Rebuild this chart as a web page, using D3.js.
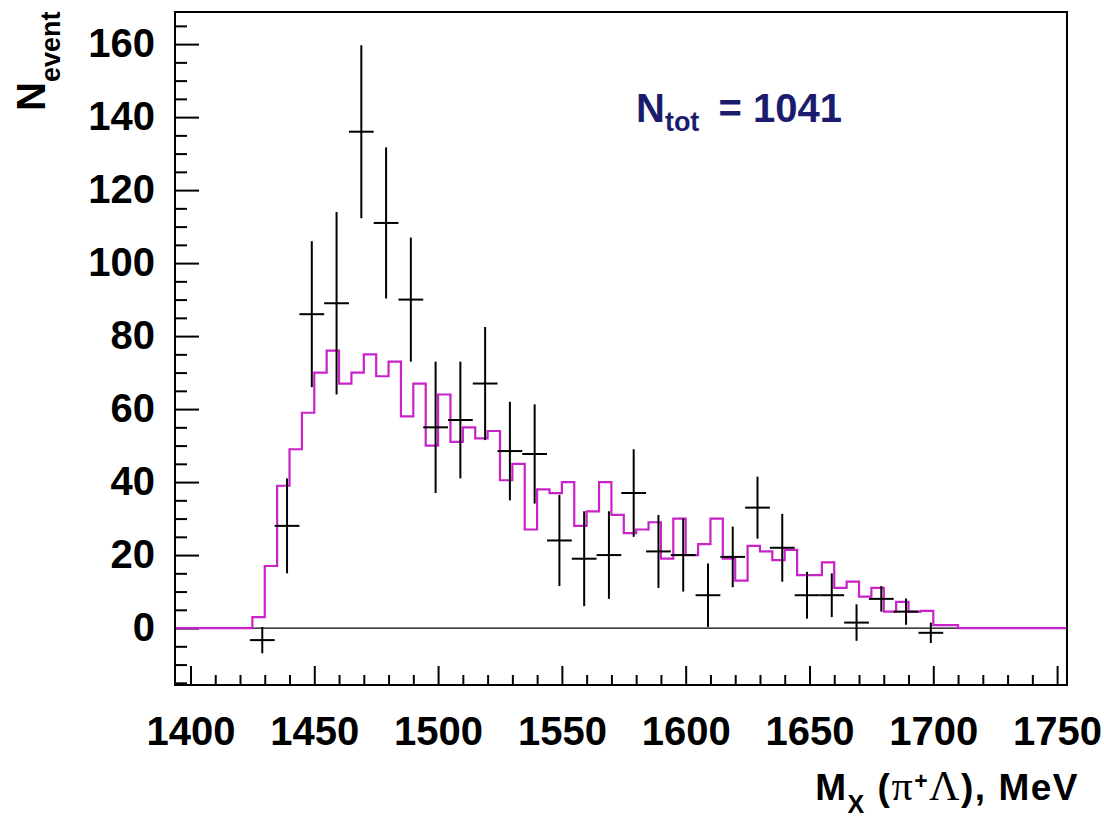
<!DOCTYPE html>
<html>
<head>
<meta charset="utf-8">
<script src="https://cdn.jsdelivr.net/npm/d3@7"></script>
<style>
  body { margin: 0; background: #fff; }
  svg { display: block; }
  text { font-family: "Liberation Sans", Arial, Helvetica, sans-serif; font-weight: bold; fill: #000; }
</style>
</head>
<body>
<script>
// simulated spectrum, 5 MeV bins (low edges)
const histLow = [1425, 1430, 1435, 1440, 1445, 1450, 1455, 1460, 1465, 1470,
    1475, 1480, 1485, 1490, 1495, 1500, 1505, 1510, 1515, 1520,
    1525, 1530, 1535, 1540, 1545, 1550, 1555, 1560, 1565, 1570,
    1575, 1580, 1585, 1590, 1595, 1600, 1605, 1610, 1615, 1620,
    1625, 1630, 1635, 1640, 1645, 1650, 1655, 1660, 1665, 1670,
    1675, 1680, 1685, 1690, 1695, 1700, 1705];
const histVal = [3, 17, 39, 49, 59, 70, 76, 67, 70, 75,
    69, 73, 58, 67, 50, 64, 51, 55, 52, 54,
    40.5, 45, 27, 38, 37, 40, 28, 32, 40, 31,
    26, 27, 29, 19, 30, 20, 23, 30, 19, 13,
    22.5, 21, 18.6, 21.4, 14.5, 14.5, 18, 11, 12.7, 8.6,
    11, 4.5, 7.2, 4.5, 4.7, 0.8, 0.8];
const histBin = 5;

// measured points, 10 MeV bins (centres)
const dataX = [1429, 1439, 1449, 1459, 1469, 1479, 1489, 1499, 1509, 1519,
    1529, 1539, 1549, 1559, 1569, 1579, 1589, 1599, 1609, 1619,
    1629, 1639, 1649, 1659, 1669, 1679, 1689, 1699];
const dataY = [-3.3, 28, 86, 89, 136, 111, 90, 55, 57, 67,
    48.5, 47.7, 24, 19, 20, 37, 21, 20, 9, 19.5,
    33, 22, 9, 9, 1.5, 8, 4.5, -1.3];
const dataErr = [3.6, 13, 20, 25, 23.7, 20.7, 17, 18, 16, 15.5,
    13.5, 13.6, 12.5, 13, 12, 12, 10, 10, 8.7, 8.3,
    8.5, 9.3, 6.4, 6, 5, 3.5, 3.6, 2.8];
const dataHalfW = 5;

const xMajor = [1400, 1450, 1500, 1550, 1600, 1650, 1700, 1750];
const yMajor = [0, 20, 40, 60, 80, 100, 120, 140, 160];
const nTot = 1041;

const W = 1104, H = 819;
const frame = {left: 175, right: 1067, top: 12, bottom: 685};

const x = d3.scaleLinear().domain([1393.75, 1754]).range([frame.left, frame.right]);
const y = d3.scaleLinear().domain([-15.6, 168.8]).range([frame.bottom, frame.top]);

const svg = d3.select("body").append("svg")
    .attr("width", W)
    .attr("height", H);

//axes
const xMinor = d3.range(1400, 1755, 10).filter(v => !xMajor.includes(v));
const yMinor = d3.range(-15, 169, 5).filter(v => !yMajor.includes(v));

svg.append("g")
    .attr("transform", "translate(0," + frame.bottom + ")")
    .call(d3.axisBottom(x).tickValues(xMinor).tickSize(-10).tickFormat(""))
    .call(g => g.select(".domain").remove());
const gx = svg.append("g")
    .attr("transform", "translate(0," + frame.bottom + ")")
    .call(d3.axisBottom(x).tickValues(xMajor).tickSize(-19).tickPadding(32).tickFormat(d3.format("d")));
gx.select(".domain").remove();
gx.selectAll("text").style("font-size", "40px");

svg.append("g")
    .attr("transform", "translate(" + frame.left + ",0)")
    .call(d3.axisLeft(y).tickValues(yMinor).tickSize(-12).tickFormat(""))
    .call(g => g.select(".domain").remove());
const gy = svg.append("g")
    .attr("transform", "translate(" + frame.left + ",0)")
    .call(d3.axisLeft(y).tickValues(yMajor).tickSize(-24).tickPadding(20).tickFormat(d3.format("d")));
gy.select(".domain").remove();
gy.selectAll("text").style("font-size", "40px");

svg.selectAll(".tick line").attr("stroke", "#000").attr("stroke-width", 2);

// zero line
svg.append("line")
    .attr("x1", frame.left).attr("x2", frame.right)
    .attr("y1", y(0)).attr("y2", y(0))
    .attr("stroke", "#000")
    .attr("stroke-width", 1.3);

// histogram
const stepPts = [[x.domain()[0], 0]];
histLow.forEach((e, i) => stepPts.push([e, histVal[i]]));
stepPts.push([histLow[histLow.length - 1] + histBin, 0]);
stepPts.push([x.domain()[1], 0]);
const line = d3.line()
    .x(d => x(d[0]))
    .y(d => y(d[1]))
    .curve(d3.curveStepAfter);
svg.append("path")
    .attr("d", line(stepPts))
    .attr("fill", "none")
    .attr("stroke", "#c822c8")
    .attr("stroke-width", 2.2);

// data points with errors
const pts = svg.append("g").attr("stroke", "#000").attr("stroke-width", 2);
dataX.forEach((c, i) => {
    pts.append("line")
        .attr("x1", x(c)).attr("x2", x(c))
        .attr("y1", y(dataY[i] - dataErr[i])).attr("y2", y(dataY[i] + dataErr[i]));
    pts.append("line")
        .attr("x1", x(c - dataHalfW)).attr("x2", x(c + dataHalfW))
        .attr("y1", y(dataY[i])).attr("y2", y(dataY[i]));
});

// frame
svg.append("rect")
    .attr("x", frame.left).attr("y", frame.top)
    .attr("width", frame.right - frame.left)
    .attr("height", frame.bottom - frame.top)
    .attr("fill", "none")
    .attr("stroke", "#000")
    .attr("stroke-width", 2);

// y title
const yt = svg.append("text")
    .attr("transform", "translate(45,111) rotate(-90)");
yt.append("tspan").style("font-size", "40px").text("N");
yt.append("tspan").style("font-size", "27px").attr("dy", 15).text("event");

// x title
const xt = svg.append("text")
    .attr("x", 1079).attr("y", 800)
    .attr("text-anchor", "end")
    .style("font-size", "37px")
    .style("letter-spacing", "1.5px");
xt.append("tspan").text("M");
xt.append("tspan").style("font-size", "25px").attr("dy", 13).text("X");
xt.append("tspan").attr("dy", -13).text(" (");
xt.append("tspan").style("font-family", "'Liberation Serif', serif").style("font-weight", "normal").style("font-size", "42px").text("π");
xt.append("tspan").style("font-size", "23px").attr("dy", -11).text("+");
xt.append("tspan").style("font-family", "'Liberation Serif', serif").style("font-weight", "normal").style("font-size", "42px").attr("dy", 11).text("Λ");
xt.append("tspan").text("), MeV");

// total count
const nt = svg.append("text")
    .attr("x", 636).attr("y", 122)
    .style("fill", "#1c1c6e");
nt.append("tspan").style("font-size", "40px").style("fill", "#1c1c6e").text("N");
nt.append("tspan").style("font-size", "27px").style("fill", "#1c1c6e").attr("dy", 9).text("tot");
nt.append("tspan").style("font-size", "40px").style("fill", "#1c1c6e").attr("dy", -9).attr("dx", 8).text("\u00a0= " + nTot);
</script>
</body>
</html>
